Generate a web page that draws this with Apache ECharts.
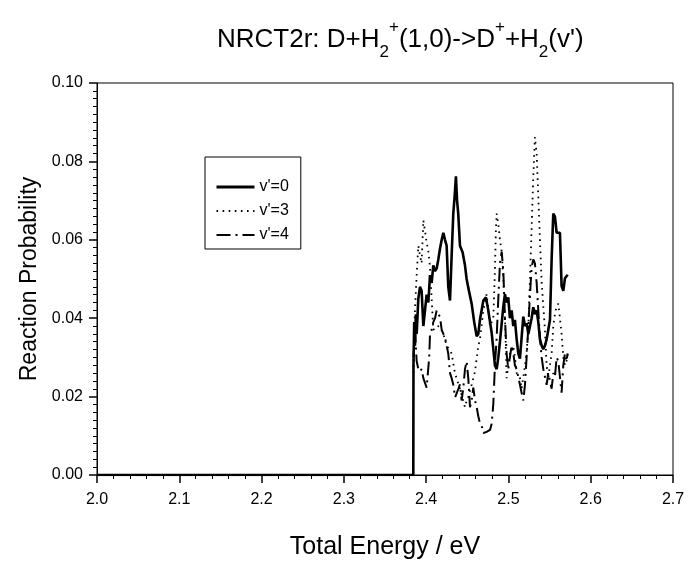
<!DOCTYPE html>
<html><head><meta charset="utf-8">
<script src="https://cdn.jsdelivr.net/npm/echarts@6/dist/echarts.min.js"></script>
<style>html,body{margin:0;padding:0;background:#fff}#c{width:688px;height:565px}</style>
</head><body><div id="c"></div>
<script>
const seriesNames = ["v'=0", "v'=3", "v'=4"];
const xTicks = [2.0, 2.1, 2.2, 2.3, 2.4, 2.5, 2.6, 2.7];
const yTicks = [0.00, 0.02, 0.04, 0.06, 0.08, 0.10];

const e0 = [2.0, 2.3844, 2.3846, 2.3855, 2.3864, 2.3875, 2.3885, 2.3905, 2.3925, 2.3945, 2.3966, 2.3986, 2.4006, 2.4027, 2.4047, 2.4067, 2.4087, 2.4108, 2.4128, 2.4148, 2.4168, 2.4189, 2.4209, 2.4229, 2.4249, 2.4269, 2.429, 2.431, 2.433, 2.4346, 2.4362, 2.4376, 2.439, 2.4411, 2.4443, 2.4472, 2.4492, 2.4512, 2.4553, 2.4584, 2.4614, 2.4634, 2.4654, 2.4695, 2.4727, 2.4755, 2.4796, 2.4836, 2.4857, 2.4877, 2.4897, 2.4938, 2.4958, 2.4978, 2.4998, 2.5018, 2.5039, 2.5059, 2.5079, 2.51, 2.512, 2.514, 2.516, 2.5181, 2.5201, 2.5221, 2.5242, 2.5262, 2.5282, 2.5302, 2.5322, 2.5343, 2.5363, 2.5383, 2.5404, 2.5424, 2.5444, 2.5464, 2.5484, 2.5505, 2.5525, 2.5545, 2.5565, 2.5586, 2.5606, 2.5626, 2.5646, 2.5667, 2.5687, 2.5705, 2.572];
const p0 = [0, 0, 0.028, 0.039, 0.033, 0.041, 0.036, 0.045, 0.048, 0.047, 0.038, 0.042, 0.046, 0.044, 0.051, 0.049, 0.0535, 0.052, 0.0527, 0.055, 0.0577, 0.060, 0.0618, 0.060, 0.0585, 0.048, 0.0445, 0.056, 0.0667, 0.071, 0.0762, 0.070, 0.0667, 0.0585, 0.0568, 0.0535, 0.050, 0.0478, 0.0437, 0.039, 0.0354, 0.036, 0.0396, 0.0445, 0.0453, 0.042, 0.0363, 0.028, 0.027, 0.030, 0.034, 0.043, 0.0461, 0.044, 0.0453, 0.040, 0.042, 0.038, 0.0396, 0.0346, 0.031, 0.0297, 0.035, 0.0404, 0.038, 0.0387, 0.036, 0.0363, 0.040, 0.0428, 0.041, 0.042, 0.039, 0.0346, 0.033, 0.0321, 0.033, 0.0346, 0.037, 0.0396, 0.055, 0.0667, 0.0659, 0.0618, 0.062, 0.0618, 0.0482, 0.047, 0.0502, 0.050, 0.0511];

const e3 = [2.3846, 2.3852, 2.3864, 2.3885, 2.3905, 2.3925, 2.3945, 2.3966, 2.3986, 2.4006, 2.4027, 2.4047, 2.4067, 2.4087, 2.4128, 2.4168, 2.4209, 2.425, 2.431, 2.435, 2.4411, 2.4472, 2.4492, 2.4512, 2.4553, 2.4594, 2.4634, 2.4654, 2.4695, 2.4735, 2.4776, 2.4816, 2.4836, 2.4847, 2.4857, 2.4877, 2.4897, 2.4918, 2.4938, 2.4958, 2.4978, 2.4998, 2.5018, 2.5059, 2.5079, 2.51, 2.514, 2.516, 2.5181, 2.5221, 2.5242, 2.5262, 2.5282, 2.5302, 2.5322, 2.5343, 2.5363, 2.5383, 2.5404, 2.5424, 2.5444, 2.5464, 2.5484, 2.5505, 2.5525, 2.5545, 2.5565, 2.5586, 2.5606, 2.5626, 2.5646, 2.5667, 2.5687, 2.5705, 2.572];
const p3 = [0.026, 0.033, 0.042, 0.0511, 0.0585, 0.056, 0.054, 0.065, 0.0655, 0.0594, 0.057, 0.053, 0.045, 0.037, 0.038, 0.0379, 0.036, 0.033, 0.031, 0.026, 0.022, 0.0173, 0.019, 0.020, 0.023, 0.0264, 0.033, 0.0346, 0.042, 0.0461, 0.038, 0.040, 0.052, 0.062, 0.0667, 0.064, 0.060, 0.057, 0.050, 0.040, 0.0247, 0.028, 0.031, 0.033, 0.030, 0.026, 0.0247, 0.022, 0.025, 0.031, 0.038, 0.050, 0.063, 0.076, 0.0862, 0.082, 0.071, 0.060, 0.049, 0.043, 0.037, 0.028, 0.0247, 0.028, 0.031, 0.038, 0.041, 0.043, 0.0437, 0.040, 0.036, 0.030, 0.028, 0.029, 0.031];

const e4 = [2.3846, 2.3864, 2.3885, 2.3905, 2.3925, 2.3945, 2.3966, 2.3986, 2.4006, 2.4027, 2.4037, 2.4047, 2.4067, 2.4087, 2.4108, 2.4128, 2.4148, 2.4168, 2.4189, 2.4209, 2.4229, 2.4249, 2.4269, 2.429, 2.431, 2.433, 2.4352, 2.4372, 2.4392, 2.4411, 2.4431, 2.4452, 2.4472, 2.4492, 2.4512, 2.4533, 2.4553, 2.4573, 2.4594, 2.4614, 2.4634, 2.4654, 2.4675, 2.4695, 2.4735, 2.4776, 2.4796, 2.4816, 2.4836, 2.4857, 2.4877, 2.4897, 2.4918, 2.4938, 2.4958, 2.4978, 2.4998, 2.5018, 2.5039, 2.5059, 2.5079, 2.51, 2.512, 2.514, 2.516, 2.5181, 2.5201, 2.5221, 2.5242, 2.5262, 2.5282, 2.5302, 2.5322, 2.5343, 2.5363, 2.5383, 2.5404, 2.5424, 2.5444, 2.5464, 2.5484, 2.5505, 2.5525, 2.5545, 2.5565, 2.5586, 2.5606, 2.5626, 2.5646, 2.5667, 2.5687, 2.5705, 2.572];
const p4 = [0.030, 0.037, 0.029, 0.027, 0.0264, 0.027, 0.0247, 0.0235, 0.0223, 0.0225, 0.030, 0.036, 0.037, 0.039, 0.040, 0.042, 0.041, 0.0404, 0.037, 0.036, 0.035, 0.033, 0.031, 0.026, 0.0247, 0.023, 0.0198, 0.0198, 0.022, 0.0231, 0.019, 0.0223, 0.027, 0.029, 0.0247, 0.0173, 0.019, 0.0223, 0.019, 0.0173, 0.015, 0.0132, 0.0125, 0.0107, 0.011, 0.0115, 0.013, 0.018, 0.028, 0.035, 0.045, 0.054, 0.057, 0.052, 0.040, 0.031, 0.027, 0.030, 0.033, 0.031, 0.028, 0.027, 0.025, 0.023, 0.021, 0.019, 0.023, 0.030, 0.038, 0.046, 0.053, 0.055, 0.054, 0.049, 0.042, 0.035, 0.030, 0.027, 0.025, 0.023, 0.026, 0.024, 0.022, 0.026, 0.025, 0.030, 0.029, 0.025, 0.021, 0.028, 0.031, 0.029, 0.031];

const zip = (xs, ys) => xs.map((x, i) => [x, ys[i]]);
const FONT = "'Liberation Sans', Arial, Helvetica, sans-serif";

const chart = echarts.init(document.getElementById('c'), null, {renderer: 'canvas'});
chart.setOption({
  animation: false,
  backgroundColor: '#fff',
  title: {
    text: "NRCT2r: D+H{sub|2}{sup|+}(1,0)->D{sup|+}+H{sub|2}(v')",
    left: 212, top: 14,
    textStyle: {
      fontFamily: FONT, fontSize: 26, fontWeight: 'normal', color: '#000', lineHeight: 42,
      rich: {
        sub: {fontFamily: FONT, fontSize: 17, color: '#000', verticalAlign: 'bottom', lineHeight: 40},
        sup: {fontFamily: FONT, fontSize: 17, color: '#000', verticalAlign: 'top', lineHeight: 17}
      }
    }
  },
  legend: {
    orient: 'vertical', left: 205, top: 157,
    data: [
      {name: seriesNames[0], lineStyle: {width: 3}},
      {name: seriesNames[1], lineStyle: {width: 2}},
      {name: seriesNames[2], lineStyle: {width: 2.2}}
    ],
    itemWidth: 38, itemHeight: 12, itemGap: 8,
    padding: [22, 12, 6, 10],
    borderColor: '#000', borderWidth: 1, borderRadius: 0,
    itemStyle: {opacity: 0},
    textStyle: {fontFamily: FONT, fontSize: 16, color: '#000'}
  },
  grid: {left: 97, right: 15, top: 83, bottom: 78, show: true, borderColor: '#000', borderWidth: 1, backgroundColor: 'transparent'},
  xAxis: {
    type: 'value', min: xTicks[0], max: xTicks[xTicks.length - 1], interval: 0.1,
    name: 'Total Energy / eV', nameLocation: 'middle', nameGap: 60,
    nameTextStyle: {fontFamily: FONT, fontSize: 25, color: '#000'},
    axisLine: {show: true, lineStyle: {color: '#000', width: 1}},
    axisTick: {show: true, inside: false, length: 8, lineStyle: {color: '#000', width: 1.5}},
    minorTick: {show: true, splitNumber: 5, length: 4, lineStyle: {color: '#000', width: 1}},
    splitLine: {show: false}, minorSplitLine: {show: false},
    axisLabel: {fontFamily: FONT, fontSize: 16, color: '#000', margin: 17, formatter: v => v.toFixed(1)}
  },
  yAxis: {
    type: 'value', min: yTicks[0], max: yTicks[yTicks.length - 1], interval: 0.02,
    name: 'Reaction Probability', nameLocation: 'middle', nameGap: 56, nameRotate: 90,
    nameTextStyle: {fontFamily: FONT, fontSize: 23, color: '#000'},
    axisLine: {show: true, lineStyle: {color: '#000', width: 1}},
    axisTick: {show: true, inside: false, length: 8, lineStyle: {color: '#000', width: 1.5}},
    minorTick: {show: true, splitNumber: 10, length: 4, lineStyle: {color: '#000', width: 1}},
    splitLine: {show: false}, minorSplitLine: {show: false},
    axisLabel: {fontFamily: FONT, fontSize: 16, color: '#000', margin: 14, formatter: v => v.toFixed(2)}
  },
  series: [
    {name: seriesNames[0], type: 'line', data: zip(e0, p0), showSymbol: false, symbol: 'none',
     lineStyle: {color: '#000', width: 2.6, type: 'solid'}, itemStyle: {color: '#000'}, z: 3},
    {name: seriesNames[1], type: 'line', data: zip(e3, p3), showSymbol: false, symbol: 'none',
     lineStyle: {color: '#000', width: 1.8, type: [1.6, 4.5]}, itemStyle: {color: '#000'}, z: 2},
    {name: seriesNames[2], type: 'line', data: zip(e4, p4), showSymbol: false, symbol: 'none',
     lineStyle: {color: '#000', width: 2, type: [14, 5, 2, 5]}, itemStyle: {color: '#000'}, z: 2}
  ]
});
</script></body></html>
